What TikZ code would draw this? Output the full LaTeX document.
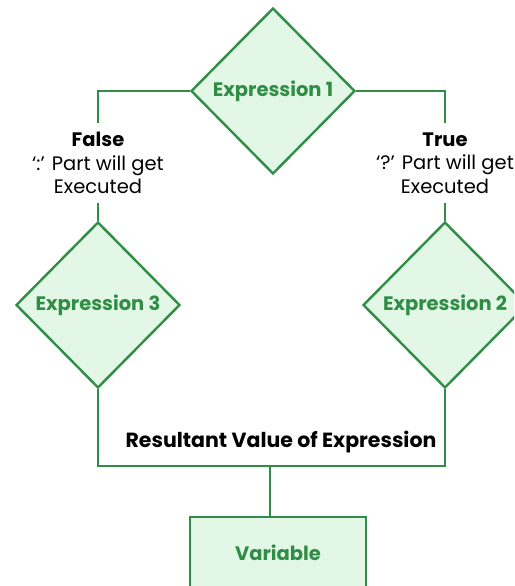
\documentclass[tikz,border=0pt]{standalone}
\usepackage{fontspec}
\setmainfont{Poppins}
\usetikzlibrary{shapes.geometric}
\definecolor{gline}{HTML}{2F8D46}
\definecolor{gfill}{HTML}{E2F7E5}
\definecolor{gtext}{HTML}{2F8D46}
\tikzset{
  decision/.style={diamond, draw=gline, fill=gfill, line width=2.4pt, inner sep=0pt,
    minimum width=164pt, minimum height=166pt, text=gtext,
    font=\fontsize{19.5}{22}\selectfont\bfseries},
  varbox/.style={rectangle, draw=gline, fill=gfill, line width=2.4pt,
    minimum width=176pt, minimum height=72pt, text=gtext,
    font=\fontsize{19.5}{22}\selectfont\bfseries},
  conn/.style={draw=gline, line width=2.4pt},
  lbl/.style={align=center, text=black, inner sep=9pt,
    font=\fontsize{19.5}{23.5}\selectfont},
}
\begin{document}
\begin{tikzpicture}[x=1pt,y=-1pt]
\useasboundingbox (0,0) rectangle (514,586);
\clip (0,0) rectangle (514,586);
\node[decision] (e1) at (273,91) {\raisebox{-2pt}{Expression 1}};
\node[decision] (e3) at (98,305) {\raisebox{-2pt}{Expression 3}};
\node[decision] (e2) at (445,305) {\raisebox{-2pt}{Expression 2}};
\node[lbl] (lf) at (98,163) {\textbf{False}\\‘:’ Part will get\\Executed};
\node[lbl] (lt) at (445,163) {\textbf{True}\\‘?’ Part will get\\Executed};
\node[varbox] (var) at (278,553) {\raisebox{-1pt}{Variable}};
\coordinate (j) at (270,466);
\node[font=\fontsize{20.5}{22}\selectfont\bfseries, text=black] (res) at (281,442) {Resultant Value of Expression};
\draw[conn] (e1.west) -| (lf.north);
\draw[conn] (e1.east) -| (lt.north);
\draw[conn] (lf.south) -- (e3.north);
\draw[conn] (lt.south) -- (e2.north);
\draw[conn] (e3.south) |- (j) -| (e2.south);
\draw[conn] (j) -- (j |- var.north);
\end{tikzpicture}
\end{document}
